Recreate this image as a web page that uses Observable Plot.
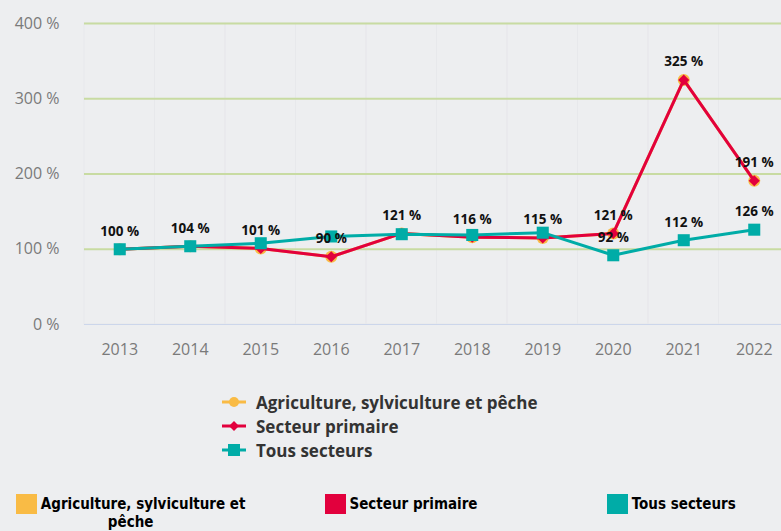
<!DOCTYPE html>
<html><head><meta charset="utf-8">
<script src="https://cdn.jsdelivr.net/npm/d3@7"></script>
<script src="https://cdn.jsdelivr.net/npm/@observablehq/plot@0.6"></script>
<style>
html,body{margin:0;padding:0;background:#edeef0;overflow:hidden;}
body{width:781px;height:531px;position:relative;font-family:"Open Sans",sans-serif;}
#chart{position:absolute;left:0;top:0;}
#legend1{position:absolute;left:222px;top:390px;}
.l1row{height:24px;display:flex;align-items:center;font-weight:700;font-size:17px;color:#333;}
.l1row svg{margin-right:10px;}
#legend2{position:absolute;left:-4.5px;top:494px;width:811px;display:grid;grid-template-columns:repeat(3,1fr);justify-items:center;align-items:start;}
.l2item{max-width:232px;text-align:center;font-family:"Liberation Sans Narrow","DejaVu Sans Condensed",sans-serif;font-weight:700;font-size:15px;line-height:17px;color:#000;}
.sw{display:inline-block;width:21px;height:20px;vertical-align:-5px;margin-right:4px;}
</style></head>
<body>
<div id="chart"></div>
<div id="legend1"></div>
<div id="legend2"></div>
<script>
const years = [2013, 2014, 2015, 2016, 2017, 2018, 2019, 2020, 2021, 2022];
const agriculture = [100, 104, 101, 90, 121, 116, 115, 121, 325, 191];
const primaire = [100, 104, 101, 90, 121, 116, 115, 121, 325, 191];
const tous = [100, 104, 108, 117, 120, 119, 122, 92, 112, 126];
const tousLabelShown = [false, false, false, false, false, false, false, true, true, true];
const yTicks = [0, 100, 200, 300, 400];
const seriesNames = ["Agriculture, sylviculture et pêche", "Secteur primaire", "Tous secteurs"];
const colors = ["#f9bb45", "#e2003d", "#00aca7"];

const agriData = years.map((y, i) => ({year: y, v: agriculture[i]}));
const primData = years.map((y, i) => ({year: y, v: primaire[i]}));
const tousData = years.map((y, i) => ({year: y, v: tous[i], show: tousLabelShown[i]}));

const plot = Plot.plot({
  width: 781,
  height: 370,
  marginLeft: 84,
  marginRight: 0,
  marginTop: 23,
  marginBottom: 46,
  style: {background: "#edeef0", fontFamily: "Open Sans, sans-serif", fontSize: "16px", color: "#7a7a7a", overflow: "hidden"},
  x: {type: "band", domain: years, padding: 0, round: false, range: [84, 789], tickSize: 0, tickPadding: 19, tickFormat: d => String(d), label: null},
  y: {domain: [0, d3.max(yTicks)], ticks: yTicks, tickFormat: d => `${d} %`, tickSize: 0, tickPadding: 25, label: null},
  marks: [
    Plot.barY(years, {x: d => d, y1: 0, y2: d3.max(yTicks), fill: "none", stroke: "#e7e8eb", strokeWidth: 1}),
    Plot.ruleY(yTicks.filter(t => t > 0), {stroke: "#c8dba2", strokeWidth: 2}),
    Plot.ruleY([0], {stroke: "#ccd6eb", strokeWidth: 1}),
    Plot.line(agriData, {x: "year", y: "v", stroke: colors[0], strokeWidth: 3}),
    Plot.dot(agriData, {x: "year", y: "v", fill: colors[0], r: 6, symbol: "circle"}),
    Plot.line(primData, {x: "year", y: "v", stroke: colors[1], strokeWidth: 3}),
    Plot.dot(primData, {x: "year", y: "v", fill: colors[1], r: 5, symbol: "diamond2"}),
    Plot.line(tousData, {x: "year", y: "v", stroke: colors[2], strokeWidth: 3}),
    Plot.dot(tousData, {x: "year", y: "v", fill: colors[2], r: 6.8, symbol: "square"}),
    Plot.text(primData, {x: "year", y: "v", text: d => `${d.v} %`, dy: -18, fontWeight: 700, fontSize: 13.5, fill: "#111"}),
    Plot.text(tousData.filter(d => d.show), {x: "year", y: "v", text: d => `${d.v} %`, dy: -18, fontWeight: 700, fontSize: 13.5, fill: "#111"})
  ]
});
document.getElementById("chart").appendChild(plot);

// Legend 1 (line + marker)
const symbols = [
  '<circle cx="12" cy="8" r="5"/>',
  '<rect x="8.5" y="4.5" width="7" height="7" transform="rotate(45 12 8)"/>',
  '<rect x="6" y="2" width="12" height="12"/>'
];
const l1 = document.getElementById("legend1");
seriesNames.forEach((name, i) => {
  const row = document.createElement("div");
  row.className = "l1row";
  row.innerHTML = `<svg width="24" height="16"><line x1="0" x2="24" y1="8" y2="8" stroke="${colors[i]}" stroke-width="3"/><g fill="${colors[i]}">${symbols[i]}</g></svg><span>${name}</span>`;
  l1.appendChild(row);
});

// Legend 2 (squares)
const l2 = document.getElementById("legend2");
seriesNames.forEach((name, i) => {
  const item = document.createElement("div");
  item.className = "l2item";
  item.innerHTML = `<span class="sw" style="background:${colors[i]}"></span>${name}`;
  l2.appendChild(item);
});
</script>
</body></html>
